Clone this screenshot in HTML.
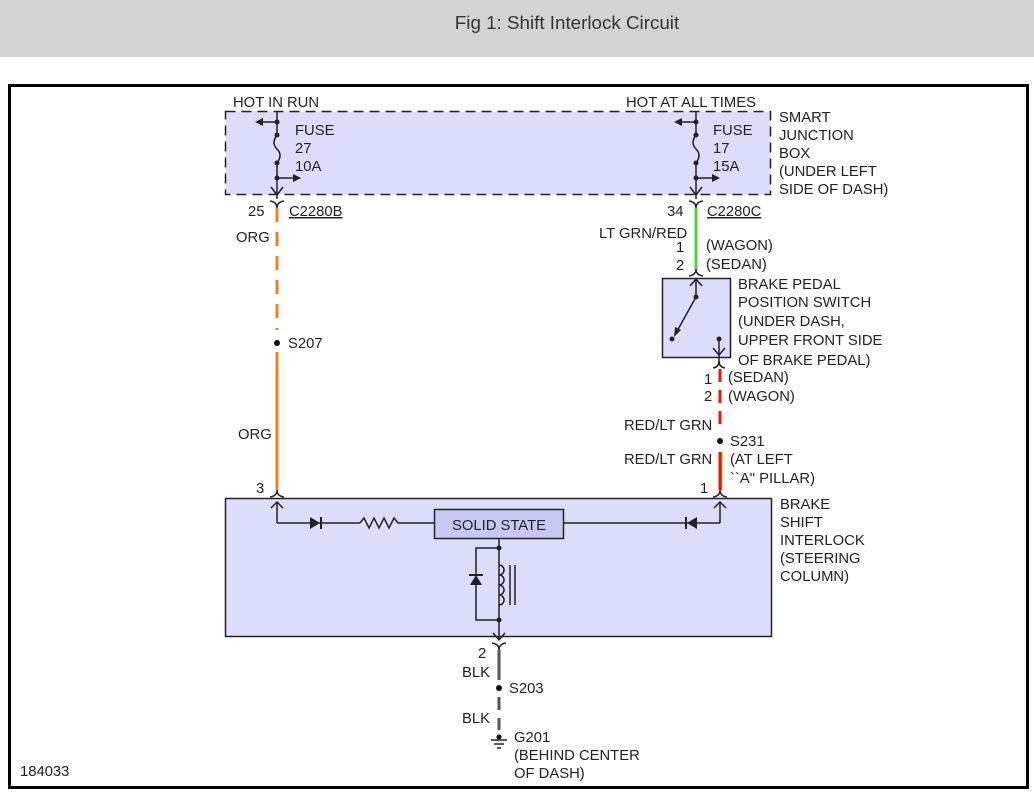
<!DOCTYPE html>
<html><head><meta charset="utf-8"><style>
html,body{margin:0;padding:0;background:#fff}
svg{display:block}
text{font-family:"Liberation Sans",sans-serif;font-size:14.8px;fill:#222}
</style></head><body>
<svg width="1034" height="800" viewBox="0 0 1034 800" xmlns="http://www.w3.org/2000/svg">
<rect x="0" y="0" width="1034" height="57" fill="#d3d3d3"/>
<text x="567" y="29" text-anchor="middle" style="font-size:18.8px;fill:#333">Fig 1: Shift Interlock Circuit</text>
<rect x="9.5" y="85.5" width="1018" height="702" fill="none" stroke="#000" stroke-width="3"/>

<!-- junction box -->
<rect x="225.5" y="111.5" width="545" height="83" fill="#dcdcfb" stroke="#222" stroke-width="1.5" stroke-dasharray="10,6"/>
<text x="233" y="107">HOT IN RUN</text>
<text x="626" y="107">HOT AT ALL TIMES</text>
<g stroke="#222" stroke-width="1.5" fill="none">
<line x1="277" y1="111" x2="277" y2="135"/><path d="M277 135 q-6 8 0 14 q6 6 0 14"/><line x1="277" y1="163" x2="277" y2="199"/>
<line x1="277" y1="122" x2="262" y2="122"/><line x1="277" y1="178" x2="293" y2="178"/>
<path d="M271 187 L277 195 L283 187"/>
<line x1="696" y1="111" x2="696" y2="135"/><path d="M696 135 q-6 8 0 14 q6 6 0 14"/><line x1="696" y1="163" x2="696" y2="199"/>
<line x1="696" y1="122" x2="681" y2="122"/><line x1="696" y1="178" x2="712" y2="178"/>
<path d="M690 187 L696 195 L702 187"/>
</g>
<g fill="#222">
<circle cx="277" cy="122" r="2.5"/><circle cx="277" cy="135" r="2.5"/><circle cx="277" cy="163" r="2.5"/><circle cx="277" cy="178" r="2.5"/>
<path d="M255 122 l8 -4 v8z"/><path d="M301 178 l-8 -4 v8z"/>
<circle cx="696" cy="122" r="2.5"/><circle cx="696" cy="135" r="2.5"/><circle cx="696" cy="163" r="2.5"/><circle cx="696" cy="178" r="2.5"/>
<path d="M674 122 l8 -4 v8z"/><path d="M720 178 l-8 -4 v8z"/>
</g>
<text x="295" y="135">FUSE</text><text x="295" y="153">27</text><text x="295" y="171">10A</text>
<text x="713" y="135">FUSE</text><text x="713" y="153">17</text><text x="713" y="171">15A</text>
<text x="779" y="122">SMART</text><text x="779" y="140">JUNCTION</text><text x="779" y="158">BOX</text><text x="779" y="176">(UNDER LEFT</text><text x="779" y="194">SIDE OF DASH)</text>

<!-- connectors -->
<g stroke="#222" stroke-width="1.5" fill="none">
<path d="M270 201 q7 1 7 7 q0 -6 7 -7"/>
<path d="M689 201 q7 1 7 7 q0 -6 7 -7"/>
</g>
<text x="248" y="216">25</text><text x="289" y="216" text-decoration="underline">C2280B</text>
<text x="667" y="216">34</text><text x="707" y="216" text-decoration="underline">C2280C</text>

<!-- orange wire -->
<line x1="277" y1="208" x2="277" y2="330" stroke="#f0821e" stroke-width="3" stroke-dasharray="14,10"/>
<line x1="277" y1="352" x2="277" y2="490" stroke="#f0821e" stroke-width="3"/>
<circle cx="277" cy="343" r="3" fill="#111"/>
<text x="236" y="242">ORG</text><text x="288" y="348">S207</text><text x="238" y="439">ORG</text>

<!-- green wire -->
<line x1="696" y1="208" x2="696" y2="270" stroke="#4fd23a" stroke-width="3"/>
<text x="599" y="238">LT GRN/RED</text>
<text x="676" y="252">1</text><text x="706" y="250">(WAGON)</text>
<text x="676" y="270">2</text><text x="706" y="269">(SEDAN)</text>
<path d="M689 276 q7 -1 7 -7 q0 6 7 7" stroke="#222" stroke-width="1.5" fill="none"/>

<!-- brake switch -->
<rect x="662.5" y="278.5" width="68" height="79" fill="#dcdcfb" stroke="#222" stroke-width="1.5"/>
<g stroke="#222" stroke-width="1.5" fill="none">
<line x1="696" y1="279" x2="696" y2="297"/><path d="M690 286 L696 279 L702 286"/>
<line x1="696" y1="297" x2="676" y2="333"/>
<line x1="719" y1="339" x2="719" y2="365"/><path d="M713 348 L719 355 L725 348"/>
<path d="M713 368 q6 -1 6 -7 q0 6 6 7"/>
</g>
<g fill="#222"><circle cx="696" cy="297" r="2.5"/><circle cx="672" cy="339" r="2.5"/><circle cx="719" cy="339" r="2.5"/><path d="M674 337 l1 -10 l6 3z"/></g>
<text x="738" y="289">BRAKE PEDAL</text><text x="738" y="307">POSITION SWITCH</text><text x="738" y="326">(UNDER DASH,</text><text x="738" y="345">UPPER FRONT SIDE</text><text x="738" y="365">OF BRAKE PEDAL)</text>

<!-- red wire -->
<line x1="720" y1="369" x2="720" y2="430" stroke="#ee1111" stroke-width="3" stroke-dasharray="13,8"/>
<line x1="720" y1="452" x2="720" y2="490" stroke="#ee1111" stroke-width="3"/>
<line x1="722" y1="452" x2="722" y2="490" stroke="#4fd23a" stroke-width="1"/>
<circle cx="720" cy="441" r="3" fill="#111"/>
<text x="704" y="384">1</text><text x="728" y="382">(SEDAN)</text>
<text x="704" y="401">2</text><text x="728" y="401">(WAGON)</text>
<text x="624" y="430">RED/LT GRN</text><text x="730" y="446">S231</text>
<text x="624" y="464">RED/LT GRN</text><text x="730" y="464">(AT LEFT</text><text x="730" y="483">``A" PILLAR)</text>

<!-- interlock box -->
<text x="256" y="493">3</text><text x="700" y="493">1</text>
<rect x="225.5" y="498.5" width="546" height="138" fill="#dcdcfb" stroke="#222" stroke-width="1.5"/>
<g stroke="#222" stroke-width="1.5" fill="none">
<path d="M270 497 q7 -1 7 -7 q0 6 7 7"/>
<path d="M713 497 q7 -1 7 -7 q0 6 7 7"/>
<path d="M271 508 L277 502 L283 508"/><line x1="277" y1="502" x2="277" y2="523"/>
<line x1="277" y1="523" x2="360" y2="523"/>
<path d="M360 523 l4 -5 l5 10 l5 -10 l5 10 l5 -10 l5 10 l5 -10 l4 5"/>
<line x1="398" y1="523" x2="434" y2="523"/>
<path d="M714 508 L720 502 L726 508"/><line x1="720" y1="502" x2="720" y2="523"/>
<line x1="564" y1="523" x2="720" y2="523"/>
<line x1="499" y1="539" x2="499" y2="640"/>
<path d="M499 548 H476 V620 H499"/>
<path d="M499 565 a5 5 0 0 1 0 10 a5 5 0 0 1 0 10 a5 5 0 0 1 0 10 a5 5 0 0 1 0 10"/>
<line x1="510" y1="565" x2="510" y2="605"/><line x1="515" y1="565" x2="515" y2="605"/>
<path d="M493 633 L499 640 L505 633"/>
<path d="M492 643 q7 1 7 7 q0 -6 7 -7"/>
</g>
<rect x="434.5" y="509.5" width="129" height="29" fill="#c8c8f4" stroke="#222" stroke-width="1.5"/>
<text x="499" y="530" text-anchor="middle">SOLID STATE</text>
<g fill="#222">
<path d="M310 517 l10 6 l-10 6z"/><rect x="320" y="517" width="2" height="12"/>
<path d="M697 517 l-10 6 l10 6z"/><rect x="685" y="517" width="2" height="12"/>
<path d="M470 585 l6 -10 l6 10z"/><rect x="469" y="574" width="14" height="2"/>
<circle cx="499" cy="548" r="2.5"/><circle cx="499" cy="620" r="2.5"/>
</g>
<text x="780" y="509">BRAKE</text><text x="780" y="527">SHIFT</text><text x="780" y="545">INTERLOCK</text><text x="780" y="563">(STEERING</text><text x="780" y="581">COLUMN)</text>

<!-- black wire -->
<line x1="499" y1="650" x2="499" y2="680" stroke="#555" stroke-width="3"/>
<line x1="499" y1="697" x2="499" y2="730" stroke="#555" stroke-width="3" stroke-dasharray="13,8"/>
<circle cx="499" cy="688" r="3" fill="#111"/>
<text x="478" y="658">2</text><text x="462" y="677">BLK</text><text x="509" y="693">S203</text><text x="462" y="723">BLK</text>
<circle cx="499" cy="737" r="2.5" fill="#111"/>
<g stroke="#222" stroke-width="1.5"><line x1="491" y1="740" x2="507" y2="740"/><line x1="494" y1="744" x2="504" y2="744"/><line x1="497" y1="748" x2="501" y2="748"/></g>
<text x="514" y="742">G201</text><text x="514" y="760">(BEHIND CENTER</text><text x="514" y="778">OF DASH)</text>
<text x="20" y="776">184033</text>
</svg>
</body></html>
